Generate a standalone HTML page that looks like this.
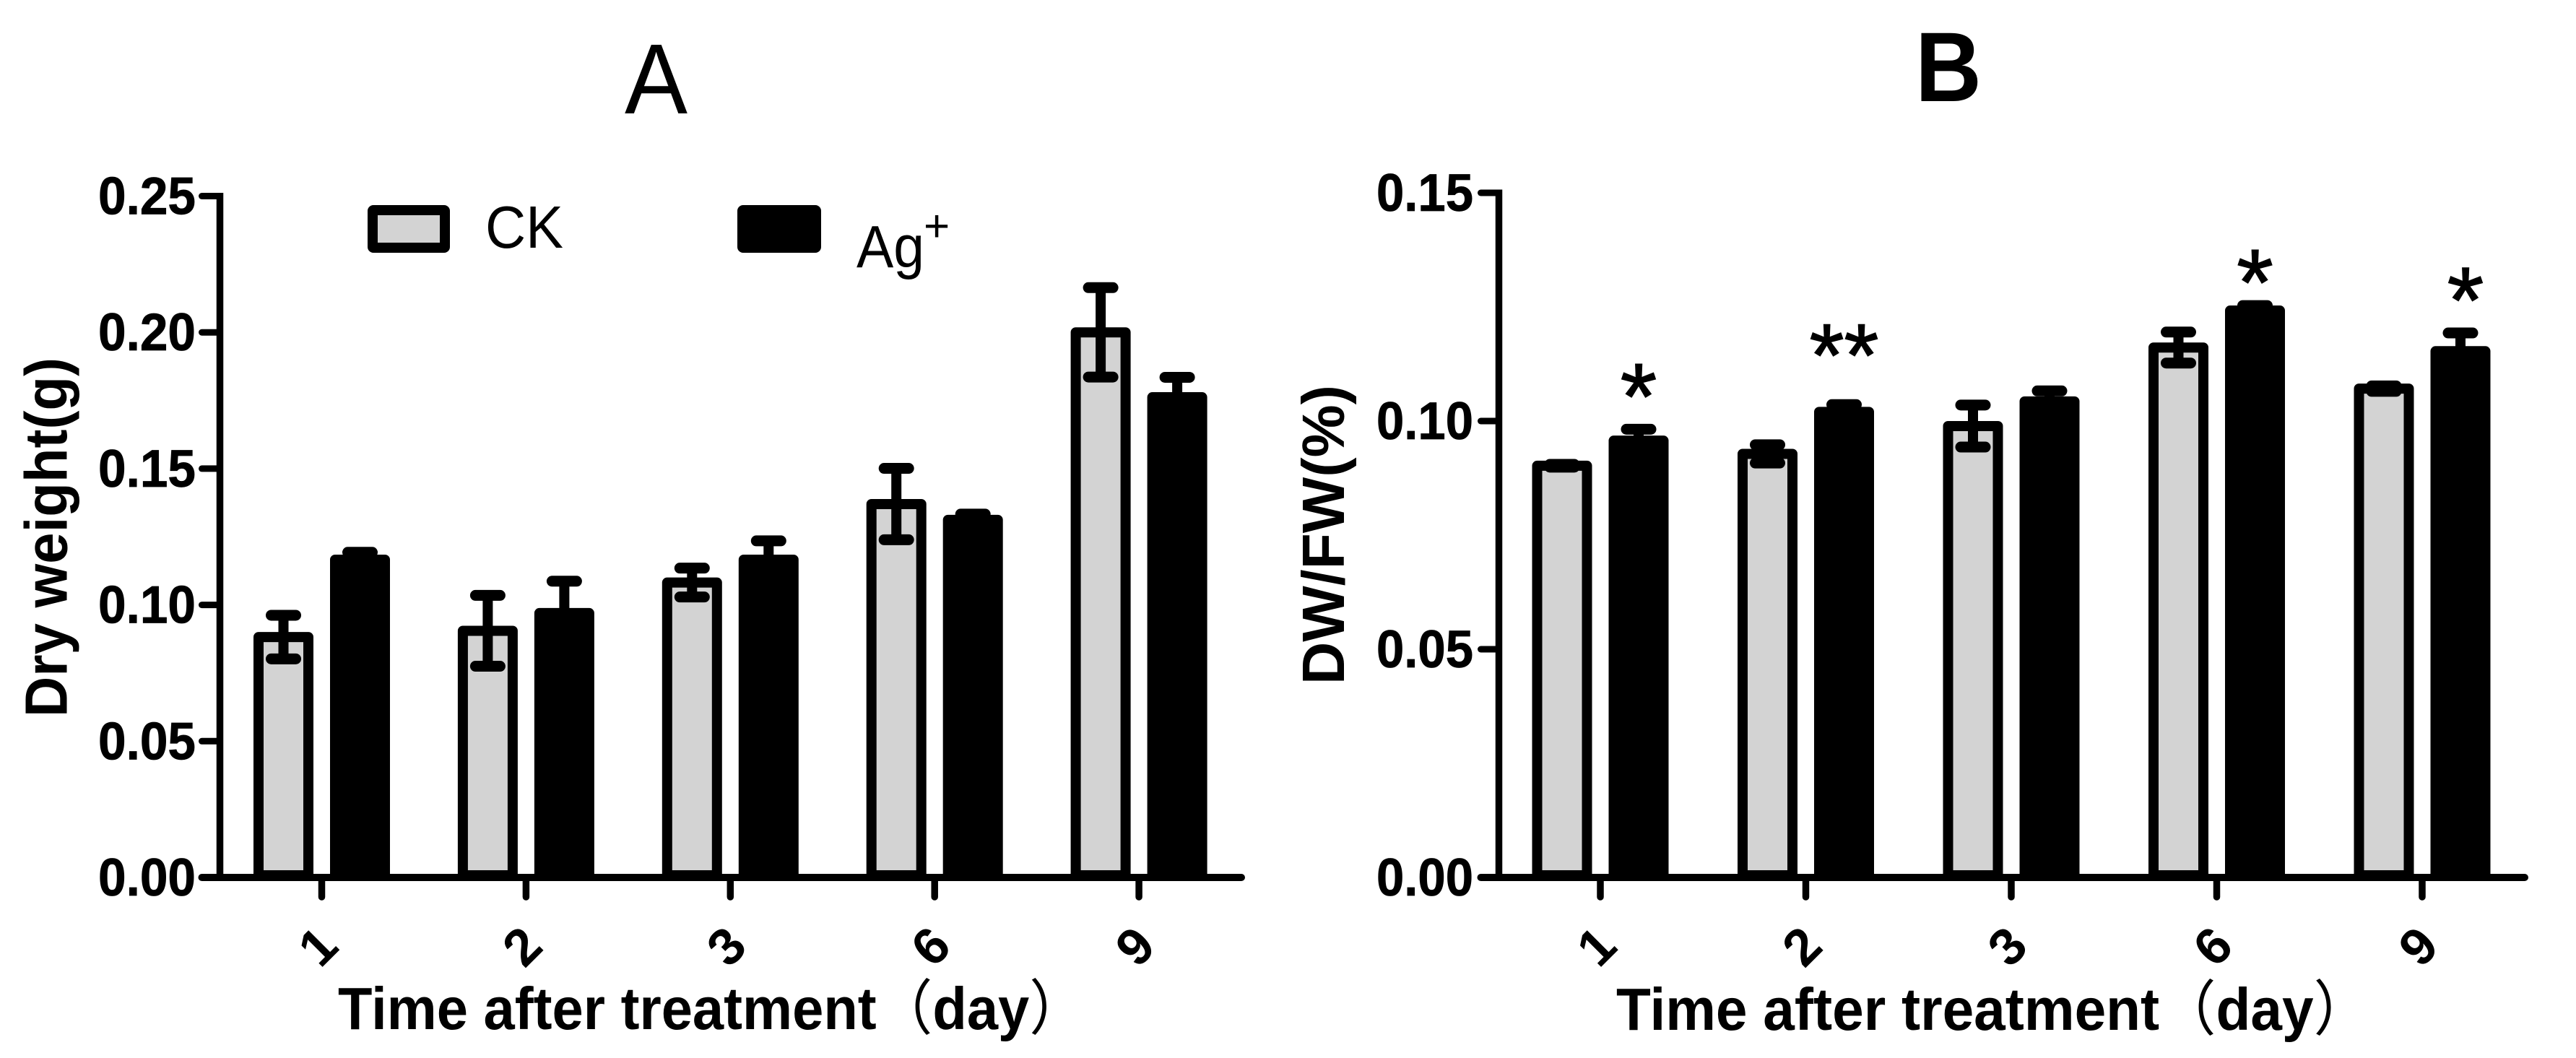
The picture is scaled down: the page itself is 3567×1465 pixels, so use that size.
<!DOCTYPE html>
<html>
<head>
<meta charset="utf-8">
<title>Dry weight and DW/FW after treatment</title>
<style>
html,body{margin:0;padding:0;background:#fff;width:3567px;height:1465px;overflow:hidden}
svg{display:block}
text{font-family:"Liberation Sans","Noto Sans CJK SC",sans-serif;fill:#000}
.b{font-weight:bold}
</style>
</head>
<body>
<svg id="figure" xmlns="http://www.w3.org/2000/svg" width="3567" height="1465" viewBox="0 0 3567 1465">
  <rect width="3567" height="1465" fill="#fff"/>
  <text x="865" y="157" font-size="138" textLength="87" lengthAdjust="spacingAndGlyphs">A</text>
  <text class="b" x="2652" y="140" font-size="137" textLength="92" lengthAdjust="spacingAndGlyphs">B</text>

  <g id="panel-a"></g>
  <g id="panel-b"></g>

  <text class="b" transform="translate(92.5 993) rotate(-90)" font-size="83" textLength="498" lengthAdjust="spacingAndGlyphs">Dry weight(g)</text>
  <text class="b" transform="translate(1861 948) rotate(-90)" font-size="83" textLength="415" lengthAdjust="spacingAndGlyphs">DW/FW(%)</text>
  <text class="b" x="468" y="1425" font-size="83" textLength="1035" lengthAdjust="spacingAndGlyphs">Time after treatment<tspan font-weight="normal">（</tspan>day<tspan font-weight="normal">）</tspan></text>
  <text class="b" x="2238" y="1426" font-size="83" textLength="1044" lengthAdjust="spacingAndGlyphs">Time after treatment<tspan font-weight="normal">（</tspan>day<tspan font-weight="normal">）</tspan></text>

  <g>
    <rect x="516" y="291" width="100" height="52" rx="1" fill="#d3d3d3" stroke="#000" stroke-width="14" stroke-linejoin="round"/>
    <text x="672" y="343" font-size="83" textLength="108" lengthAdjust="spacingAndGlyphs">CK</text>
    <rect x="1028" y="291" width="102" height="52" rx="1" fill="#000" stroke="#000" stroke-width="14" stroke-linejoin="round"/>
    <text x="1186" y="370" font-size="83" textLength="94" lengthAdjust="spacingAndGlyphs">Ag</text>
    <text x="1279" y="334" font-size="62">+</text>
  </g>
</svg>

<script>
const categories = ['1', '2', '3', '6', '9'];

const panelATickLabels = ['0.00', '0.05', '0.10', '0.15', '0.20', '0.25'];
const panelACkValues = [0.0882, 0.0905, 0.1082, 0.137, 0.2];
const panelACkErrors = [0.008, 0.013, 0.0053, 0.0131, 0.0164];
const panelAAgValues = [0.1166, 0.097, 0.1166, 0.1312, 0.1762];
const panelAAgErrors = [0.0027, 0.0117, 0.0069, 0.0021, 0.0073];

const panelBTickLabels = ['0.00', '0.05', '0.10', '0.15'];
const panelBCkValues = [0.0902, 0.0928, 0.0989, 0.1161, 0.1071];
const panelBCkErrors = [0.0003, 0.002, 0.0046, 0.0034, 0.0006];
const panelBAgValues = [0.0957, 0.102, 0.1043, 0.1242, 0.1153];
const panelBAgErrors = [0.0025, 0.0016, 0.0023, 0.0011, 0.004];
const panelBSignificance = ['*', '**', '', '*', '*'];
const panelBSignificanceLevels = [0.1092, 0.118, 0, 0.1342, 0.1303];

const NS = 'http://www.w3.org/2000/svg';

function make(parent, tag, attrs) {
  const node = document.createElementNS(NS, tag);
  for (const key in attrs) node.setAttribute(key, attrs[key]);
  parent.appendChild(node);
  return node;
}

function drawPanel(root, opts) {
  const y = v => opts.y0 - v * opts.pxPerUnit;
  const x = i => opts.x0 + i * opts.step;
  const halfGap = 53;

  // bars
  categories.forEach((cat, i) => {
    const series = [
      { name: 'ck', cx: x(i) - halfGap, v: opts.ck[i], e: opts.ckErr[i], fill: '#d3d3d3' },
      { name: 'ag', cx: x(i) + halfGap, v: opts.ag[i], e: opts.agErr[i], fill: '#000' }
    ];
    series.forEach(s => {
      const bar = make(root, 'rect', {
        x: s.cx - 34.5, y: y(s.v), width: 69, height: opts.y0 - y(s.v) - 3,
        fill: s.fill, stroke: '#000', 'stroke-width': 14, 'stroke-linejoin': 'round'
      });
      
      

      const err = make(root, 'g', { stroke: '#000', fill: 'none' });
      
      
      make(err, 'line', { x1: s.cx, x2: s.cx, y1: y(s.v + s.e), y2: y(s.v - s.e), 'stroke-width': 14 });
      make(err, 'line', { x1: s.cx - 17, x2: s.cx + 17, y1: y(s.v + s.e), y2: y(s.v + s.e), 'stroke-width': 15, 'stroke-linecap': 'round' });
      make(err, 'line', { x1: s.cx - 17, x2: s.cx + 17, y1: y(s.v - s.e), y2: y(s.v - s.e), 'stroke-width': 15, 'stroke-linecap': 'round' });
    });
  });

  // y axis
  const yAxis = make(root, 'line', { x1: opts.axisX, x2: opts.axisX, y1: y(parseFloat(opts.ticks[opts.ticks.length - 1])) - 4.5, y2: opts.y0, stroke: '#000', 'stroke-width': 9.5 });
  
  

  opts.ticks.forEach(label => {
    const v = parseFloat(label);
    const tick = make(root, 'line', { x1: opts.axisX - 25, x2: opts.axisX, y1: y(v), y2: y(v), stroke: '#000', 'stroke-width': 9, 'stroke-linecap': 'round' });
    
    

    const text = make(root, 'text', { x: opts.labelX, y: y(v) + 25, 'font-size': 73, 'font-weight': 'bold', textLength: opts.labelW, lengthAdjust: 'spacingAndGlyphs', stroke: '#000', 'stroke-width': 0.8 });
    text.textContent = label;
    
    
  });

  // x axis
  const xAxis = make(root, 'line', { x1: opts.axisX - 25, x2: opts.axisEnd, y1: opts.y0, y2: opts.y0, stroke: '#000', 'stroke-width': 10, 'stroke-linecap': 'round' });
  
  

  categories.forEach((cat, i) => {
    const tick = make(root, 'line', { x1: x(i), x2: x(i), y1: opts.y0, y2: opts.y0 + 27, stroke: '#000', 'stroke-width': 9.5, 'stroke-linecap': 'round' });
    
    

    const text = make(root, 'text', { transform: 'translate(' + (x(i) + 12) + ' ' + (opts.y0 + 113) + ') rotate(-45)', 'font-size': 72, 'font-weight': 'bold', 'text-anchor': 'middle' });
    text.textContent = cat;
    
    
  });

  // significance marks
  if (opts.sig) {
    opts.sig.forEach((mark, i) => {
      if (!mark) return;
      const size = mark.length > 1 ? 123 : 130;
      const shift = i === 4 ? 7 : 0;
      const star = make(root, 'text', { x: x(i) + halfGap + shift, y: y(opts.sigLevels[i]) + size * 0.53, 'font-size': size, 'text-anchor': 'middle', stroke: '#000', 'stroke-width': 1.5 });
      star.textContent = mark;
      
      
    });
  }
}

drawPanel(document.getElementById('panel-a'), {
  y0: 1215, pxPerUnit: 3774, x0: 445.5, step: 282.9, axisX: 304.5, axisEnd: 1719,
  labelX: 136, labelW: 135, ticks: panelATickLabels,
  ck: panelACkValues, ckErr: panelACkErrors, ag: panelAAgValues, agErr: panelAAgErrors
});

drawPanel(document.getElementById('panel-b'), {
  y0: 1215, pxPerUnit: 6320, x0: 2216, step: 284.5, axisX: 2075.5, axisEnd: 3496,
  labelX: 1906, labelW: 134, ticks: panelBTickLabels,
  ck: panelBCkValues, ckErr: panelBCkErrors, ag: panelBAgValues, agErr: panelBAgErrors,
  sig: panelBSignificance, sigLevels: panelBSignificanceLevels
});
</script>
</body>
</html>
